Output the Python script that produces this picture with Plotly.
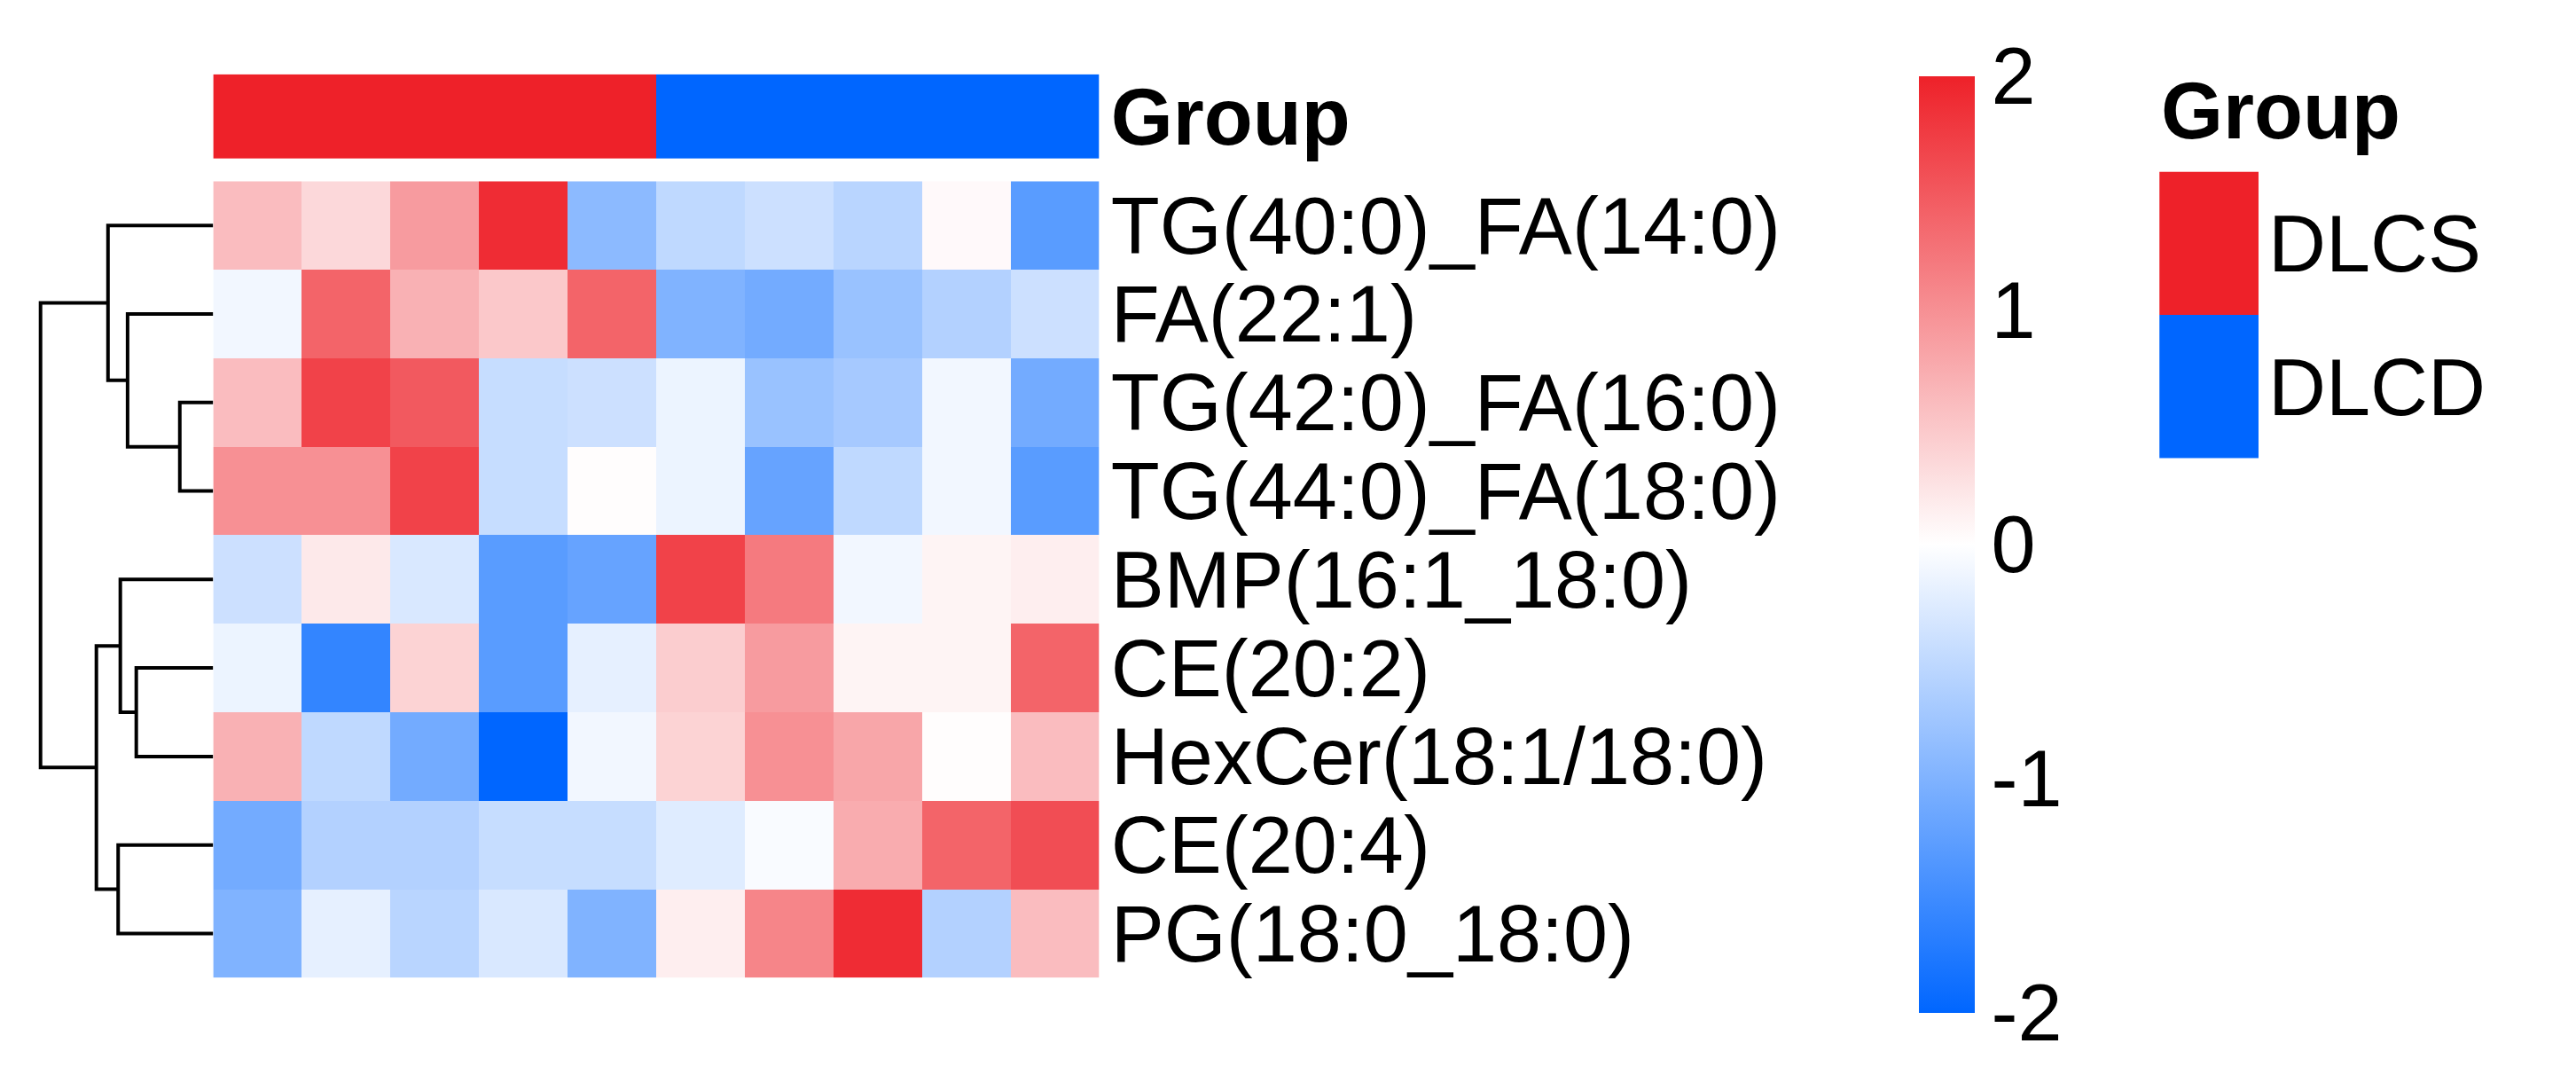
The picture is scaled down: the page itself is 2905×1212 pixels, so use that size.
import plotly.graph_objects as go

rows = ["TG(40:0)_FA(14:0)", "FA(22:1)", "TG(42:0)_FA(16:0)", "TG(44:0)_FA(18:0)",
        "BMP(16:1_18:0)", "CE(20:2)", "HexCer(18:1/18:0)", "CE(20:4)", "PG(18:0_18:0)"]
groups = ["DLCS"] * 5 + ["DLCD"] * 5
z = [
    [0.6, 0.35, 0.9, 1.9, -0.9, -0.5, -0.4, -0.55, 0.05, -1.3],
    [-0.1, 1.4, 0.7, 0.5, 1.4, -1.0, -1.1, -0.8, -0.6, -0.4],
    [0.6, 1.7, 1.5, -0.45, -0.4, -0.15, -0.8, -0.7, -0.1, -1.1],
    [1.0, 1.0, 1.7, -0.45, 0.02, -0.15, -1.2, -0.5, -0.1, -1.3],
    [-0.4, 0.2, -0.3, -1.3, -1.2, 1.7, 1.2, -0.1, 0.1, 0.15],
    [-0.15, -1.6, 0.4, -1.3, -0.2, 0.45, 0.9, 0.1, 0.1, 1.4],
    [0.7, -0.5, -1.1, -2.0, -0.1, 0.4, 1.0, 0.8, 0.02, 0.6],
    [-1.1, -0.6, -0.6, -0.45, -0.45, -0.25, -0.05, 0.75, 1.4, 1.6],
    [-1.0, -0.2, -0.55, -0.3, -1.0, 0.15, 1.1, 1.9, -0.6, 0.6],
]
cbar_ticks = [-2, -1, 0, 1, 2]
cbar_text = ["-2", "-1", "0", "1", "2"]
# dendrogram merges: (left node, right node, height); leaves 0..8, new nodes 9..
merges = [(2, 3, 46), (1, 9, 118), (0, 10, 145), (5, 6, 106), (4, 12, 128),
          (7, 8, 131), (13, 14, 161), (11, 15, 238)]

RED, BLUE = "#EE2129", "#0066FF"
cscale = [[0, BLUE], [0.5, "#FFFFFF"], [1, "#EE2129"]]
FONT = "Liberation Sans"
FS = 90

fig = go.Figure()
cols = list(range(len(groups)))
fig.add_trace(go.Heatmap(z=z, x=cols, y=list(range(len(rows))), zmin=-2, zmax=2, colorscale=cscale,
                         xaxis="x", yaxis="y",
                         colorbar=dict(x=0.742, xanchor="left", y=0.5, yanchor="middle", len=0.875,
                                       thickness=63, outlinewidth=0, tickvals=cbar_ticks,
                                       ticktext=cbar_text,
                                       ticks="", tickfont=dict(size=FS, family=FONT, color="black"), xpad=0, ypad=0)))
gcode = [[0 if g == "DLCS" else 1 for g in groups]]
fig.add_trace(go.Heatmap(z=gcode, x=cols, y=[0], zmin=0, zmax=1,
                         colorscale=[[0, RED], [0.5, RED], [0.5, BLUE], [1, BLUE]],
                         showscale=False, xaxis="x", yaxis="y2"))
fig.add_trace(go.Heatmap(z=[[0], [1]], y=["DLCS", "DLCD"], x=[0], zmin=0, zmax=1,
                         colorscale=[[0, RED], [0.5, RED], [0.5, BLUE], [1, BLUE]],
                         showscale=False, xaxis="x4", yaxis="y4"))

pos = {i: float(i) for i in range(len(rows))}
hgt = {i: 0.0 for i in range(len(rows))}
nid = len(rows)
xs, ys = [], []
for a, b, h in merges:
    xs += [hgt[a], h, h, hgt[b], None]
    ys += [pos[a], pos[a], pos[b], pos[b], None]
    pos[nid] = (pos[a] + pos[b]) / 2
    hgt[nid] = h
    nid += 1
fig.add_trace(go.Scatter(x=xs, y=ys, mode="lines", line=dict(color="black", width=4),
                         xaxis="x3", yaxis="y3", hoverinfo="skip", showlegend=False))

fig.update_layout(
    width=2905, height=1212, margin=dict(l=0, r=0, t=0, b=0),
    paper_bgcolor="white", plot_bgcolor="white", showlegend=False,
    font=dict(family=FONT, color="black"),
    xaxis=dict(domain=[0.080, 0.424], showticklabels=False, showgrid=False, zeroline=False),
    yaxis=dict(domain=[0.095, 0.839], autorange="reversed", side="right", showgrid=False,
               tickmode="array", tickvals=list(range(len(rows))), ticktext=rows, zeroline=False,
               tickfont=dict(size=FS, family=FONT), ticks="", ticklabelstandoff=12),
    yaxis2=dict(domain=[0.860, 0.939], side="right", showgrid=False, tickvals=[0], zeroline=False,
                ticktext=["<b>Group</b>"], tickfont=dict(size=FS, family=FONT), ticks="",
                ticklabelstandoff=12),
    xaxis3=dict(domain=[0.0096, 0.080], visible=False, range=[250, 0]),
    yaxis3=dict(domain=[0.095, 0.839], range=[8.5, -0.5], visible=False, anchor="x3"),
    xaxis4=dict(domain=[0.8355, 0.874], visible=False, anchor="y4"),
    yaxis4=dict(domain=[0.58, 0.848], autorange="reversed", side="right", anchor="x4",
                showgrid=False, tickfont=dict(size=FS, family=FONT), ticks="", ticklabelstandoff=10),
)
fig.add_annotation(text="<b>Group</b>", xref="paper", yref="paper", x=0.8355, y=0.905,
                   xanchor="left", yanchor="middle", showarrow=False,
                   font=dict(size=FS, family=FONT))
fig.write_html("out.html")
